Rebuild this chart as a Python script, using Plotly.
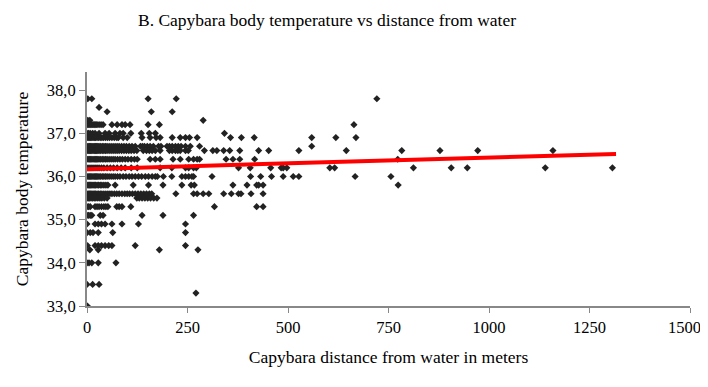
import plotly.graph_objects as go

# Distances (m) of capybaras observed at each body temperature level (°C)
t37_8 = [2, 12, 152, 222, 721]
t37_6 = [30]
t37_5 = [50, 160, 212]
t37_3 = [2, 7, 289]
t37_2 = [2, 5, 8, 12, 15, 18, 22, 25, 30, 35, 40, 62, 75, 87, 95, 107, 152, 180, 664]
t37_0 = [0, 4, 8, 14, 20, 30, 45, 55, 70, 82, 90, 109, 135, 155, 170, 342]
t36_9 = [0, 3, 6, 9, 12, 15, 18, 21, 25, 29, 33, 37, 41, 46, 51, 56, 62, 68, 74, 78,
         90, 100, 137, 157, 172, 182, 212, 232, 245, 255, 274, 357, 384, 416, 559, 619, 669]
t36_7 = [0, 3, 6, 9, 12, 15, 18, 21, 24, 27, 30, 34, 38, 42, 46, 50, 55, 60, 65, 70, 75,
         80, 86, 92, 98, 105, 112, 120, 133, 138, 143, 150, 157, 165, 178, 184, 199, 205,
         212, 220, 227, 234, 245, 257, 280, 559]
t36_6 = [0, 3, 6, 9, 12, 15, 18, 21, 24, 27, 30, 34, 38, 42, 46, 50, 55, 60, 65, 70, 75,
         80, 86, 92, 98, 104, 110, 117, 124, 140, 148, 155, 162, 170, 182, 205, 212, 220,
         226, 232, 245, 252, 292, 313, 323, 340, 355, 380, 427, 452, 527, 645, 783, 878,
         972, 1159]
t36_4 = [0, 3, 6, 9, 12, 15, 18, 21, 24, 27, 30, 34, 38, 42, 46, 50, 55, 60, 65, 70, 76,
         82, 88, 95, 102, 110, 118, 125, 157, 170, 182, 214, 232, 253, 265, 274, 280, 346,
         363, 380, 417, 773]
t36_2 = [0, 5, 10, 15, 20, 25, 30, 36, 42, 50, 58, 66, 75, 85, 95, 110, 125, 182, 211,
         245, 253, 265, 272, 377, 406, 457, 483, 488, 497, 604, 616, 812, 906, 946, 1140, 1307]
t36_0 = [0, 3, 6, 9, 12, 15, 18, 21, 24, 27, 30, 34, 38, 42, 46, 50, 55, 60, 65, 70, 76,
         82, 90, 97, 105, 112, 120, 128, 136, 145, 153, 162, 170, 175, 190, 211, 236, 245,
         253, 261, 265, 311, 407, 432, 459, 488, 513, 527, 667, 756]
t35_8 = [0, 3, 6, 9, 12, 15, 18, 21, 25, 29, 33, 37, 42, 47, 52, 70, 115, 153, 189, 236,
         259, 267, 363, 398, 422, 427, 438, 774]
t35_6 = [0, 3, 6, 9, 12, 15, 18, 21, 25, 29, 33, 37, 42, 47, 52, 57, 62, 68, 74, 80, 87,
         94, 100, 106, 113, 120, 127, 134, 141, 148, 155, 161, 221, 265, 274, 289, 303, 340,
         359, 377, 383, 408, 438]
t35_5 = [0, 3, 6, 10, 14, 18, 22, 27, 32, 37, 43, 50, 124, 130, 137, 144, 151, 158, 166, 174]
t35_3 = [0, 4, 8, 20, 25, 30, 36, 42, 47, 52, 74, 80, 87, 109, 317, 422, 438]
t35_1 = [0, 4, 8, 12, 33, 40, 137, 189, 265]
t34_9 = [0, 20, 28, 36, 45, 62, 87, 128, 245]
t34_7 = [0, 8, 15, 28, 64, 245]
t34_4 = [1, 20, 28, 36, 45, 54, 62, 120, 245]
t34_3 = [7, 28, 180, 276]
t34_0 = [0, 5, 12, 28, 72]
t33_5 = [0, 14, 30]
t33_3 = [271]
t33_0 = [1]

levels = [
    (37.8, t37_8), (37.6, t37_6), (37.5, t37_5), (37.3, t37_3), (37.2, t37_2),
    (37.0, t37_0), (36.9, t36_9), (36.7, t36_7), (36.6, t36_6), (36.4, t36_4),
    (36.2, t36_2), (36.0, t36_0), (35.8, t35_8), (35.6, t35_6), (35.5, t35_5),
    (35.3, t35_3), (35.1, t35_1), (34.9, t34_9), (34.7, t34_7), (34.4, t34_4),
    (34.3, t34_3), (34.0, t34_0), (33.5, t33_5), (33.3, t33_3), (33.0, t33_0),
]

distance = []
temperature = []
for temp, dists in levels:
    for d in dists:
        distance.append(d)
        temperature.append(temp)

# Linear trendline end points
trend_x = [0, 1316]
trend_y = [36.17, 36.52]

x_ticks = [0, 250, 500, 750, 1000, 1250, 1500]
y_ticks = [33.0, 34.0, 35.0, 36.0, 37.0, 38.0]

FONT = "Liberation Serif"

# The last x tick label sits at the right edge of the page; it is written as an
# annotation nudged slightly inward so that it is not clipped.
x_ticktext = [str(v) for v in x_ticks[:-1]] + [""]

fig = go.Figure()
fig.add_trace(go.Scatter(
    x=distance, y=temperature, mode="markers",
    marker=dict(symbol="diamond", size=5.5, color="#222222", line=dict(width=0)),
    showlegend=False, hoverinfo="x+y",
))
fig.add_trace(go.Scatter(
    x=trend_x, y=trend_y, mode="lines",
    line=dict(color="#ff0000", width=4),
    showlegend=False,
))

fig.add_annotation(
    x=x_ticks[-1], xref="x", y=0, yref="paper",
    text=str(x_ticks[-1]), showarrow=False,
    xanchor="center", yanchor="middle", xshift=-6, yshift=-21,
    font=dict(family=FONT, size=16.5, color="black"),
)

fig.update_layout(
    width=700, height=362,
    margin=dict(l=79, r=18, t=64, b=64, autoexpand=False),
    paper_bgcolor="white", plot_bgcolor="white",
    separators=",.",
    font=dict(family=FONT, size=16, color="black"),
    title=dict(
        text="B. Capybara body temperature vs distance from water",
        x=0.4557, xref="container", xanchor="center",
        y=1 - 12 / 362, yref="container", yanchor="middle",
        font=dict(family=FONT, size=17.5, color="black"),
    ),
    xaxis=dict(
        range=[0, 1500], tickvals=x_ticks, ticktext=x_ticktext,
        showgrid=False, zeroline=False, automargin=False,
        showline=True, linecolor="#888888", linewidth=2,
        ticks="outside", ticklen=5, tickcolor="#888888", tickwidth=1,
        tickfont=dict(family=FONT, size=16.5, color="black"),
        title=dict(text="Capybara distance from water in meters",
                   font=dict(family=FONT, size=17.5, color="black"), standoff=15),
    ),
    yaxis=dict(
        range=[33, 38.42], tickvals=y_ticks, tickformat=".1f",
        showgrid=False, zeroline=False, automargin=False,
        showline=True, linecolor="#888888", linewidth=2,
        ticks="outside", ticklen=6, tickcolor="#888888", tickwidth=1,
        tickfont=dict(family=FONT, size=16.5, color="black"),
        title=dict(text="Capybara body temperature",
                   font=dict(family=FONT, size=17.5, color="black"), standoff=14),
    ),
)

fig.write_html("out.html")
